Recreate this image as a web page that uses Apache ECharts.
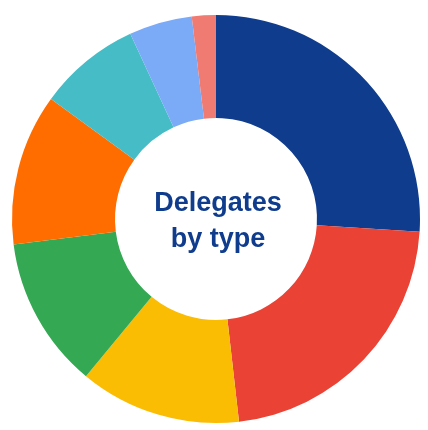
<!DOCTYPE html>
<html>
<head>
<meta charset="utf-8">
<script src="https://cdn.jsdelivr.net/npm/echarts@6/dist/echarts.min.js"></script>
<style>
  html, body { margin: 0; padding: 0; background: #fff; }
  #chart { width: 428px; height: 430px; }
</style>
</head>
<body>
<div id="chart"></div>
<script>
// delegate types (names not shown in the picture) and their shares
const types = ['Type 1', 'Type 2', 'Type 3', 'Type 4', 'Type 5', 'Type 6', 'Type 7', 'Type 8'];
const shares = [26.0, 22.2, 12.8, 12.0, 12.0, 8.1, 5.0, 1.9];
const colors = ['#0f3c8c', '#ea4335', '#fbbc04', '#34a853', '#ff6d01', '#46bdc6', '#7baaf7', '#f07b72'];

const chart = echarts.init(document.getElementById('chart'));

chart.setOption({
    animation: false,
    graphic: [{
        type: 'text',
        x: 218,
        y: 222,
        style: {
            text: 'Delegates\nby type',
            textAlign: 'center',
            textVerticalAlign: 'middle',
            fill: '#0f3c8c',
            font: 'bold 27px "Liberation Sans", Arial, sans-serif',
            lineHeight: 36
        }
    }],
    series: [{
        type: 'pie',
        center: [216, 219],
        radius: [101, 204],
        startAngle: 90,
        silent: true,
        label: {show: false},
        labelLine: {show: false},
        itemStyle: {borderWidth: 0},
        data: types.map((t, i) => ({
            name: t,
            value: shares[i],
            itemStyle: {color: colors[i]}
        }))
    }]
});
</script>
</body>
</html>
